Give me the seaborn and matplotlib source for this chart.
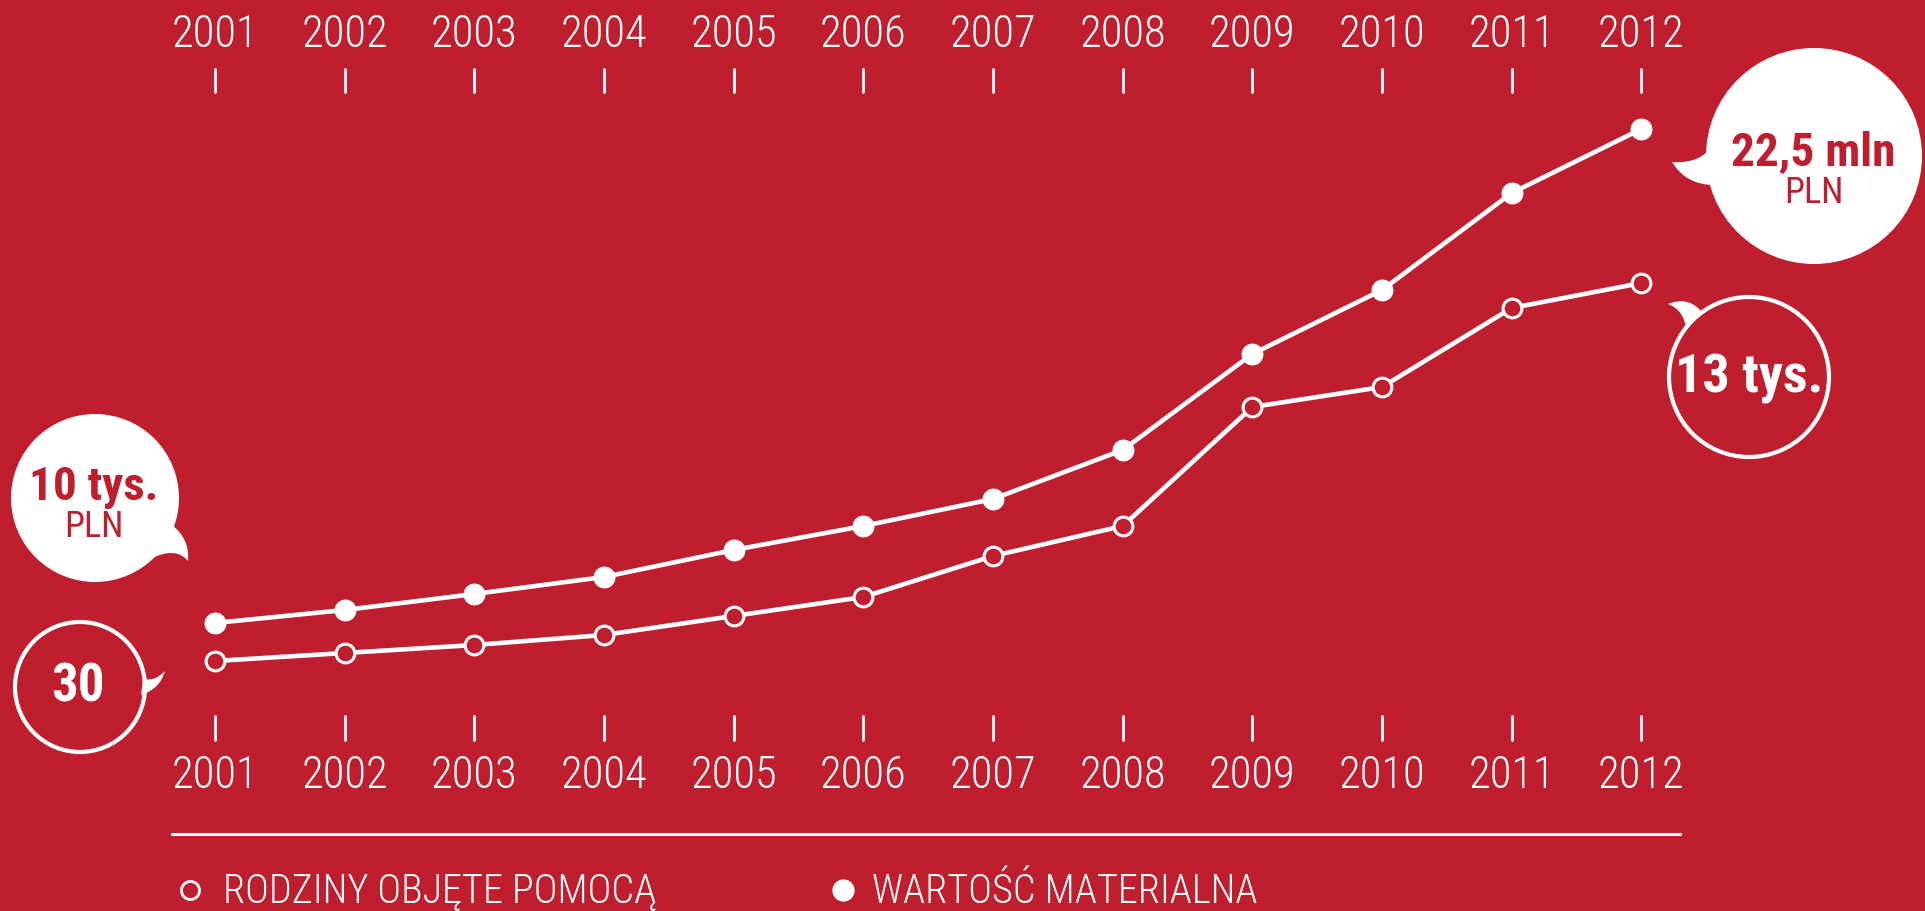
import matplotlib
matplotlib.use("Agg")
import matplotlib.pyplot as plt
import seaborn as sns
from matplotlib.patches import Circle, PathPatch
from matplotlib.path import Path

# dane (jednostki umowne wykresu)
years = list(range(2001, 2013))
wartosc = [76, 89, 105, 122, 149, 173, 200, 249, 345, 409, 506, 570]
rodziny = [38, 46, 54, 64, 83, 102, 143, 173, 292, 312, 391, 416]
legend_labels = ["RODZINY OBJĘTE POMOCĄ", "WARTOŚĆ MATERIALNA"]

RED = "#be1e2d"
WHITE = "white"

sns.set_style("white")
plt.rcParams["font.family"] = ["Roboto Condensed", "Roboto", "DejaVu Sans"]

W, H = 1925, 912
fig = plt.figure(figsize=(W / 100, H / 100), dpi=100, facecolor=RED)
ax = fig.add_axes([0, 0, 1, 1], facecolor=RED)

# linie
sns.lineplot(x=years, y=wartosc, ax=ax, color=WHITE, linewidth=3.3,
             marker="o", markersize=15, markerfacecolor=WHITE,
             markeredgecolor=WHITE, zorder=3)
sns.lineplot(x=years, y=rodziny, ax=ax, color=WHITE, linewidth=3.3,
             marker="o", markersize=13.5, markerfacecolor=RED,
             markeredgecolor=WHITE, markeredgewidth=2.2, zorder=3)

ax.set_xlim(1999.342, 2014.187)
ax.set_ylim(-212, 700)
ax.axis("off")

# lata u góry i na dole
tr = ax.get_xaxis_transform()
for yr in years:
    ax.plot([yr, yr], [1 - 70 / H, 1 - 93 / H], color=WHITE, lw=2, transform=tr)
    ax.plot([yr, yr], [1 - 717 / H, 1 - 741 / H], color=WHITE, lw=2, transform=tr)
    ax.text(yr, 1 - 47 / H, str(yr), transform=tr, ha="center", va="baseline",
            color=WHITE, fontsize=32, fontweight="light")
    ax.text(yr, 1 - 788 / H, str(yr), transform=tr, ha="center", va="baseline",
            color=WHITE, fontsize=32, fontweight="light")

# warstwa z dymkami i legendą (współrzędne w pikselach)
deco = fig.add_axes([0, 0, 1, 1], facecolor="none")
deco.set_xlim(0, W)
deco.set_ylim(H, 0)
deco.axis("off")


def tail(points):
    verts = [points[0], points[1], points[2], points[3], points[4], points[0]]
    codes = [Path.MOVETO, Path.CURVE3, Path.CURVE3, Path.CURVE3, Path.CURVE3,
             Path.CLOSEPOLY]
    deco.add_patch(PathPatch(Path(verts, codes), facecolor=WHITE,
                             edgecolor="none"))


# 10 tys. PLN
deco.add_patch(Circle((95, 499), 84, facecolor=WHITE, edgecolor="none"))
tail([(172, 526), (190, 540), (188, 562), (176, 547), (150, 560)])
deco.text(94, 500, "10 tys.", ha="center", va="baseline", color=RED,
          fontsize=34, fontweight="bold")
deco.text(94, 537, "PLN", ha="center", va="baseline", color=RED, fontsize=26)

# 30
deco.add_patch(Circle((80, 688), 65, facecolor="none", edgecolor=WHITE, lw=3))
tail([(143, 680), (155, 683), (165, 672), (160, 690), (141, 696)])
deco.text(78, 702, "30", ha="center", va="baseline", color=WHITE,
          fontsize=38, fontweight="bold")

# 22,5 mln PLN
deco.add_patch(Circle((1814, 157), 108, facecolor=WHITE, edgecolor="none"))
tail([(1712, 147), (1700, 165), (1672, 163), (1686, 186), (1714, 186)])
deco.text(1813, 165, "22,5 mln", ha="center", va="baseline", color=RED,
          fontsize=34, fontweight="bold")
deco.text(1814, 203, "PLN", ha="center", va="baseline", color=RED, fontsize=26)

# 13 tys.
deco.add_patch(Circle((1749, 378), 80, facecolor="none", edgecolor=WHITE, lw=3))
tail([(1701, 312), (1688, 297), (1668, 305), (1684, 311), (1686, 330)])
deco.text(1749, 393, "13 tys.", ha="center", va="baseline", color=WHITE,
          fontsize=39, fontweight="bold")

# legenda
deco.plot([172, 1680], [835, 835], color=WHITE, lw=2.2)
deco.plot(190, 891, "o", ms=13, mfc=RED, mec=WHITE, mew=2)
deco.plot(843, 891, "o", ms=15, mfc=WHITE, mec=WHITE)
deco.text(223, 903, legend_labels[0], ha="left", va="baseline", color=WHITE,
          fontsize=29, fontweight="light")
deco.text(872, 903, legend_labels[1], ha="left", va="baseline", color=WHITE,
          fontsize=29, fontweight="light")

fig.savefig("out.png", dpi=100, facecolor=RED)
